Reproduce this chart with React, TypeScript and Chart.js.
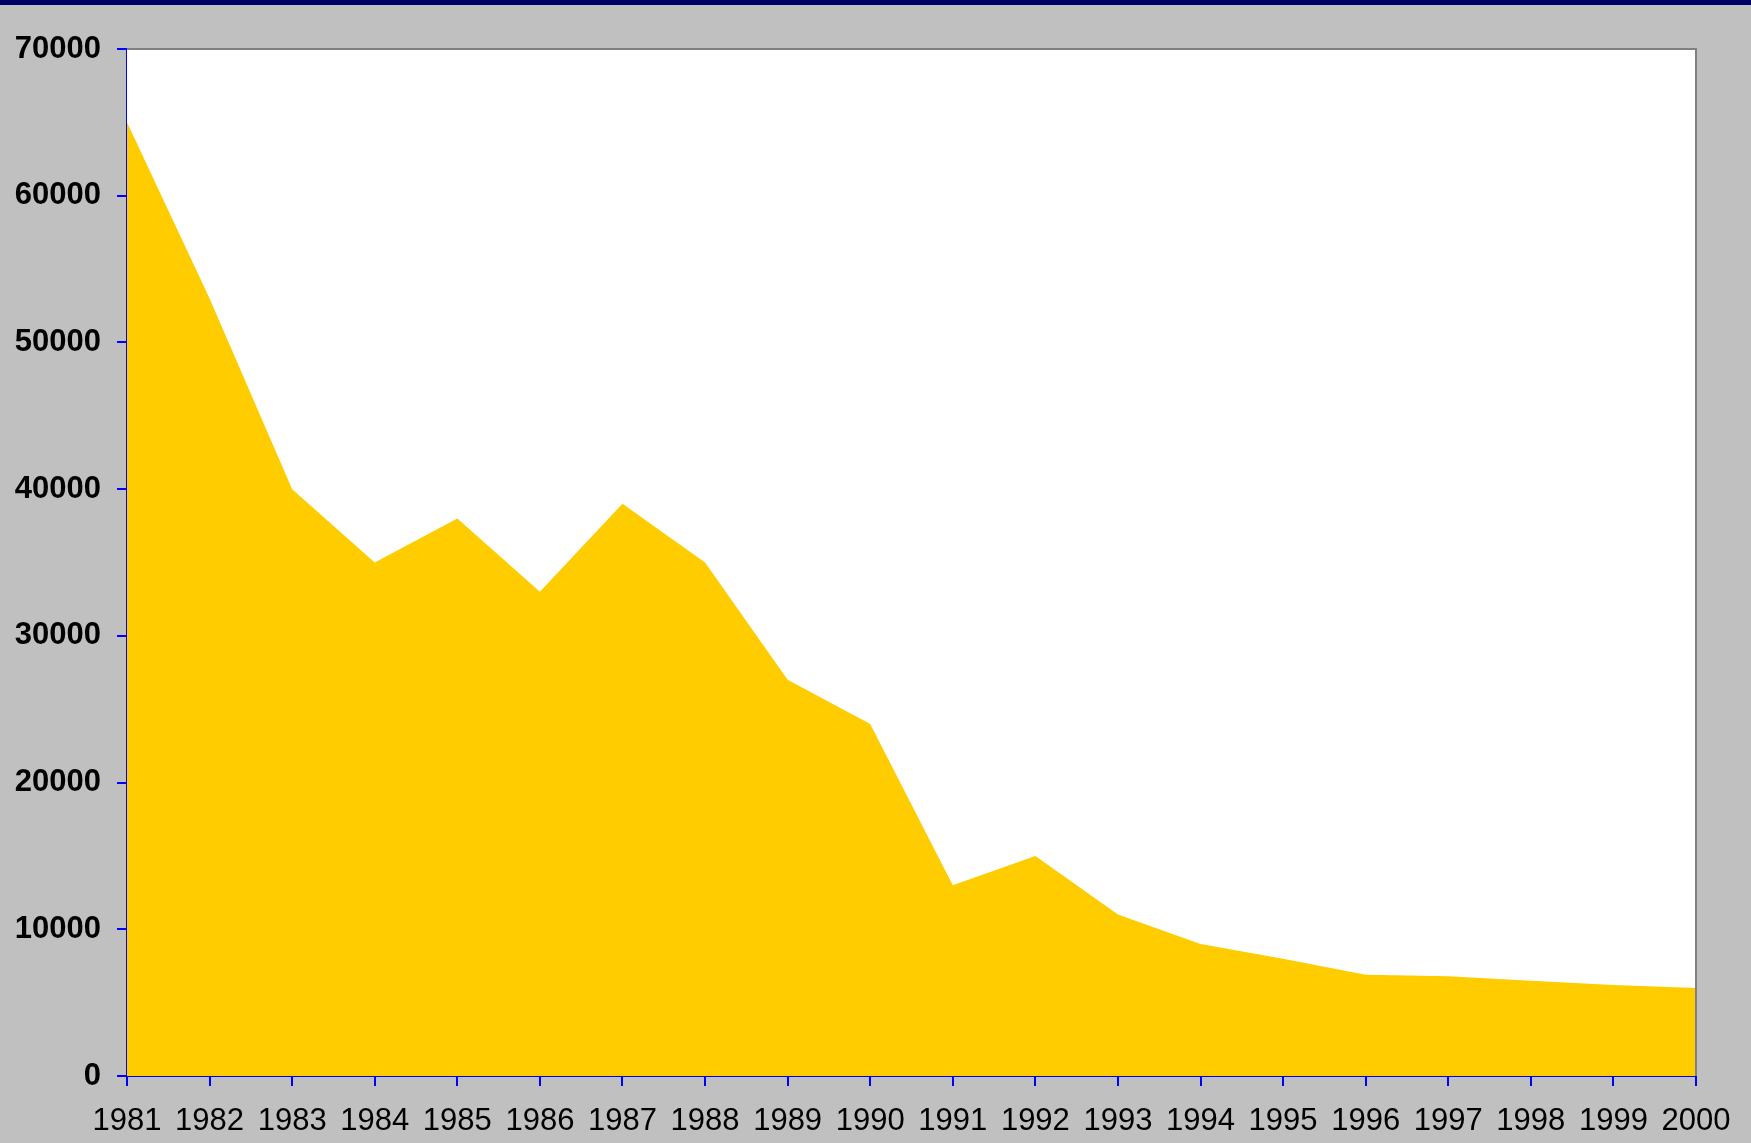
import React, { useEffect, useRef } from "react";
import { Chart, registerables } from "chart.js";

Chart.register(...registerables);

const years = [
  "1981", "1982", "1983", "1984", "1985", "1986", "1987", "1988", "1989", "1990",
  "1991", "1992", "1993", "1994", "1995", "1996", "1997", "1998", "1999", "2000",
];
const values = [
  65000, 53000, 40000, 35000, 38000, 33000, 39000, 35000, 27000, 24000,
  13000, 15000, 11000, 9000, 8000, 6900, 6800, 6500, 6200, 6000,
];
const yTicks = [0, 10000, 20000, 30000, 40000, 50000, 60000, 70000];

const W = 1751;
const H = 1143;
const FONT = "'Liberation Sans', Arial, sans-serif";

const plotFrame = {
  id: "plotFrame",
  beforeDatasetsDraw(chart: any) {
    const { ctx, chartArea } = chart;
    ctx.save();
    ctx.fillStyle = "#FFFFFF";
    ctx.fillRect(chartArea.left, chartArea.top, chartArea.right - chartArea.left, chartArea.bottom - chartArea.top);
    ctx.restore();
  },
  afterDatasetsDraw(chart: any) {
    const { ctx, chartArea } = chart;
    ctx.save();
    ctx.strokeStyle = "#808080";
    ctx.lineWidth = 2;
    ctx.beginPath();
    ctx.moveTo(chartArea.left, chartArea.top);
    ctx.lineTo(chartArea.right, chartArea.top);
    ctx.lineTo(chartArea.right, chartArea.bottom);
    ctx.stroke();
    ctx.restore();
  },
};

export default function App() {
  const ref = useRef<HTMLCanvasElement | null>(null);

  useEffect(() => {
    if (!ref.current) return;
    const chart = new Chart(ref.current, {
      type: "line",
      data: {
        labels: years,
        datasets: [
          {
            data: values,
            fill: "origin",
            backgroundColor: "#FFCC00",
            borderWidth: 0,
            borderColor: "#FFCC00",
            pointRadius: 0,
            tension: 0,
          },
        ],
      },
      options: {
        responsive: false,
        animation: false,
        layout: { padding: { top: 49, right: 55, left: 0, bottom: 0 } },
        plugins: {
          legend: { display: false },
          tooltip: { enabled: false },
        },
        scales: {
          x: {
            type: "category",
            offset: false,
            afterFit: (s: any) => {
              s.height = H - 1076;
            },
            grid: {
              display: true,
              drawOnChartArea: false,
              drawTicks: true,
              tickLength: 10,
              color: "#0000FF",
              lineWidth: 2,
            },
            border: { display: true, color: "#0000FF", width: 2 },
            ticks: {
              color: "#000000",
              font: { family: FONT, size: 31, weight: "normal" },
              padding: 17,
              maxRotation: 0,
              autoSkip: false,
            },
          },
          y: {
            min: 0,
            max: 70000,
            afterFit: (s: any) => {
              s.width = 127;
            },
            afterBuildTicks: (s: any) => {
              s.ticks = yTicks.map((v) => ({ value: v }));
            },
            grid: {
              display: true,
              drawOnChartArea: false,
              drawTicks: true,
              tickLength: 10,
              color: "#0000FF",
              lineWidth: 2,
            },
            border: { display: true, color: "#0000FF", width: 2 },
            ticks: {
              color: "#000000",
              font: { family: FONT, size: 31, weight: "bold" },
              padding: 16,
              callback: (v: any) => String(v),
            },
          },
        },
      },
      plugins: [plotFrame],
    });
    return () => chart.destroy();
  }, []);

  return (
    <div
      style={{
        position: "absolute",
        left: 0,
        top: 0,
        width: W,
        height: H,
        background: "#C0C0C0",
        overflow: "hidden",
      }}
    >
      <div
        style={{
          position: "absolute",
          left: 0,
          top: 0,
          width: W,
          height: 5,
          background: "#000066",
        }}
      />
      <canvas
        ref={ref}
        width={W}
        height={H}
        style={{ position: "absolute", left: 0, top: 0, width: W, height: H }}
      />
    </div>
  );
}
